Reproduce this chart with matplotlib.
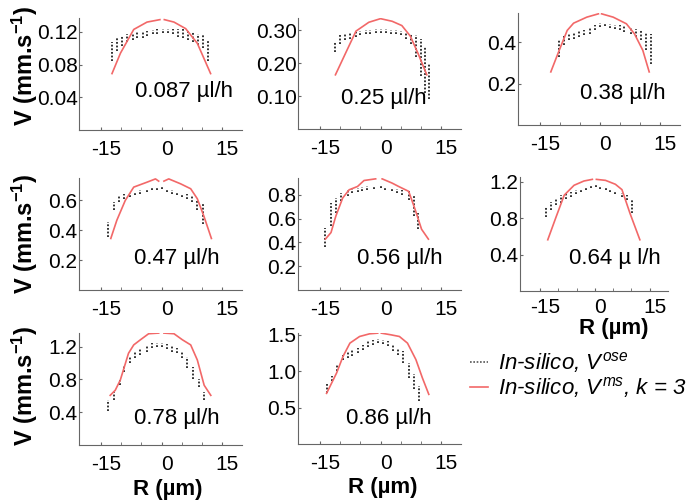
import matplotlib.pyplot as plt
import matplotlib.transforms as mtransforms
from matplotlib.lines import Line2D
import numpy as np

plt.rcParams['font.family'] = ['Liberation Sans', 'DejaVu Sans']
plt.rcParams['mathtext.fontset'] = 'custom'
plt.rcParams['mathtext.rm'] = 'Liberation Sans'
plt.rcParams['mathtext.it'] = 'Liberation Sans:italic'
plt.rcParams['mathtext.bf'] = 'Liberation Sans:bold'
plt.rcParams['axes.unicode_minus'] = False

nan = np.nan

# flow rate of each panel
flow_labels = ['0.087 µl/h', '0.25 µl/h', '0.38 µl/h', '0.47 µl/h',
               '0.56 µl/h', '0.64 µ l/h', '0.78 µl/h', '0.86 µl/h']

# In-silico V^ms (red curve), R in µm, V in mm/s; nan = gap at the centre
ms_r = [
    [-12.3, -10.2, -6.9, -3.6, -0.4, nan, 0.7, 3.1, 6.0, 8.9, 12.2],
    [-11.2, -8.6, -6.1, -2.9, 0.0, 2.9, 5.3, 7.4, 9.4, 11.5],
    [-12.3, -10.2, -8.2, -6.6, -3.3, -0.4, nan, 0.4, 3.3, 6.6, 8.6, 10.7, 12.3],
    [-12.6, -11.1, -9.0, -6.9, -3.6, -1.5, -0.7, nan, 0.6, 1.8, 4.75, 7.25, 8.9, 10.6, 12.4],
    [-13.7, -12.3, -11.1, -9.4, -7.8, -5.7, -4.1, -1.2, nan, 0.4, 2.9, 4.5, 7.0, 8.6, 10.2, 11.9],
    [-12.9, -10.6, -8.4, -5.7, -3.0, -0.7, nan, 0.4, 2.9, 5.6, 7.4, 9.6, 12.3],
    [-12.75, -11.5, -10.25, -8.2, -6.9, -5.25, -3.2, -0.7, nan, 0.6, 3.1, 5.2, 7.25, 8.9, 10.6, 12.25],
    [-13.4, -10.9, -9.3, -7.6, -5.2, -2.7, -0.7, nan, 0.2, 2.6, 4.7, 6.7, 8.8, 10.4, 12.0],
]
ms_v = [
    [0.069, 0.094, 0.123, 0.132, 0.135, nan, 0.135, 0.132, 0.124, 0.106, 0.069],
    [0.165, 0.233, 0.298, 0.325, 0.336, 0.328, 0.315, 0.283, 0.228, 0.165],
    [0.256, 0.36, 0.456, 0.491, 0.52, 0.536, nan, 0.536, 0.52, 0.488, 0.44, 0.36, 0.256],
    [0.345, 0.467, 0.60, 0.689, 0.722, 0.744, 0.729, nan, 0.729, 0.744, 0.711, 0.678, 0.611, 0.489, 0.345],
    [0.427, 0.482, 0.62, 0.772, 0.841, 0.869, 0.919, 0.933, nan, 0.933, 0.897, 0.869, 0.828, 0.676, 0.51, 0.427],
    [0.564, 0.818, 1.055, 1.164, 1.211, 1.229, nan, 1.229, 1.218, 1.175, 1.116, 0.855, 0.564],
    [0.605, 0.667, 0.79, 1.118, 1.22, 1.282, 1.356, 1.364, nan, 1.364, 1.356, 1.282, 1.22, 1.036, 0.728, 0.605],
    [0.696, 0.977, 1.205, 1.386, 1.477, 1.514, 1.523, nan, 1.523, 1.5, 1.477, 1.386, 1.159, 0.909, 0.682],
]

# In-silico V^ose (black dotted columns): radius, lowest and highest value
ose_r = [
    [-12.2, -11.0, -9.8, -8.5, -7.2, -6.0, -4.7, -3.5, -2.2, -1.0, 0.3, 1.5, 2.8, 4.0, 5.3, 6.5, 7.8, 9.0, 10.3, 11.5],
    [-11.3, -10.0, -8.8, -7.5, -6.2, -5.0, -3.7, -2.5, -1.2, 0.0, 1.3, 2.5, 3.8, 5.0, 6.3, 7.5, 8.8, 10.0, 11.0, 12.0],
    [-10.2, -9.0, -7.8, -6.6, -5.3, -4.1, -2.5, -1.2, 0.0, 1.2, 2.5, 3.7, 4.9, 6.1, 7.8, 9.0, 10.2, 11.5, 12.7],
    [-13.3, -11.9, -10.5, -9.25, -7.9, -6.5, -5.25, -3.6, -2.3, -1.1, 0.0, 1.4, 2.7, 3.9, 5.2, 6.4, 7.7, 8.9, 10.2],
    [-13.7, -12.3, -11.1, -9.7, -8.2, -7.0, -5.7, -4.5, -3.3, -1.6, 0.0, 1.2, 2.9, 4.1, 5.3, 7.0, 8.2, 9.4],
    [-13.3, -12.0, -10.6, -9.3, -7.9, -6.6, -5.2, -3.9, -2.5, -1.2, 0.2, 1.5, 2.9, 4.2, 5.6, 7.4, 8.7, 10.1],
    [-13.2, -11.75, -10.4, -9.25, -7.9, -6.5, -5.25, -3.6, -2.3, -1.1, 0.2, 1.4, 2.7, 3.9, 5.2, 6.4, 7.9, 9.3, 10.6],
    [-13.4, -12.1, -10.7, -9.4, -8.2, -7.0, -5.7, -4.3, -3.1, -1.9, -0.7, 0.6, 1.8, 3.0, 4.3, 5.7, 7.0, 8.4, 9.6],
]
ose_lo = [
    [0.085, 0.097, 0.103, 0.108, 0.110, 0.112, 0.113, 0.115, 0.117, 0.118, 0.119, 0.119, 0.117, 0.114, 0.112, 0.110, 0.108, 0.104, 0.100, 0.085],
    [0.235, 0.260, 0.270, 0.275, 0.280, 0.285, 0.288, 0.290, 0.292, 0.292, 0.292, 0.290, 0.288, 0.285, 0.275, 0.260, 0.220, 0.160, 0.110, 0.090],
    [0.328, 0.384, 0.408, 0.416, 0.424, 0.432, 0.440, 0.456, 0.472, 0.475, 0.469, 0.464, 0.456, 0.448, 0.440, 0.424, 0.408, 0.360, 0.296],
    [0.356, 0.533, 0.589, 0.611, 0.622, 0.633, 0.644, 0.656, 0.667, 0.671, 0.678, 0.656, 0.644, 0.633, 0.622, 0.611, 0.589, 0.533, 0.444],
    [0.357, 0.537, 0.648, 0.745, 0.786, 0.814, 0.820, 0.828, 0.842, 0.847, 0.856, 0.842, 0.828, 0.814, 0.800, 0.758, 0.620, 0.510],
    [0.818, 0.890, 0.945, 0.971, 1.018, 1.036, 1.073, 1.090, 1.109, 1.135, 1.145, 1.127, 1.109, 1.090, 1.073, 1.036, 1.000, 0.855],
    [0.42, 0.544, 0.728, 0.893, 0.995, 1.057, 1.098, 1.139, 1.18, 1.2, 1.2, 1.167, 1.139, 1.118, 1.057, 0.934, 0.81, 0.708, 0.544],
    [0.705, 0.864, 1.0, 1.159, 1.182, 1.214, 1.25, 1.286, 1.332, 1.364, 1.386, 1.377, 1.341, 1.273, 1.227, 1.114, 0.909, 0.75, 0.591],
]
ose_hi = [
    [0.108, 0.112, 0.115, 0.118, 0.119, 0.120, 0.120, 0.121, 0.122, 0.123, 0.123, 0.124, 0.124, 0.124, 0.123, 0.122, 0.120, 0.118, 0.116, 0.110],
    [0.265, 0.285, 0.290, 0.292, 0.295, 0.298, 0.300, 0.302, 0.303, 0.304, 0.303, 0.302, 0.300, 0.298, 0.295, 0.290, 0.285, 0.275, 0.250, 0.200],
    [0.416, 0.432, 0.443, 0.448, 0.456, 0.459, 0.472, 0.480, 0.491, 0.488, 0.485, 0.480, 0.480, 0.475, 0.472, 0.464, 0.456, 0.448, 0.440],
    [0.456, 0.589, 0.627, 0.644, 0.649, 0.656, 0.667, 0.678, 0.684, 0.689, 0.693, 0.671, 0.667, 0.656, 0.644, 0.644, 0.633, 0.600, 0.578],
    [0.523, 0.731, 0.772, 0.814, 0.842, 0.855, 0.855, 0.864, 0.869, 0.875, 0.875, 0.864, 0.855, 0.847, 0.836, 0.828, 0.800, 0.648],
    [0.927, 0.980, 1.018, 1.055, 1.080, 1.090, 1.109, 1.127, 1.145, 1.164, 1.164, 1.153, 1.138, 1.116, 1.102, 1.080, 1.055, 1.018],
    [0.544, 0.646, 0.79, 0.975, 1.077, 1.139, 1.18, 1.221, 1.241, 1.249, 1.249, 1.233, 1.208, 1.18, 1.139, 1.077, 0.954, 0.81, 0.646],
    [0.818, 0.932, 1.091, 1.227, 1.259, 1.295, 1.318, 1.364, 1.409, 1.432, 1.441, 1.432, 1.409, 1.364, 1.318, 1.273, 1.114, 0.955, 0.795],
]

# y axis ticks / tops
y_tops = [0.137, 0.338, 0.54, 0.75, 0.94, 1.255, 1.365, 1.525]
y_ticks = [[0.04, 0.08, 0.12], [0.1, 0.2, 0.3], [0.2, 0.4], [0.2, 0.4, 0.6],
           [0.2, 0.4, 0.6, 0.8], [0.4, 0.8, 1.2], [0.4, 0.8, 1.2], [0.5, 1.0, 1.5]]
y_tick_labels = [['0.04', '0.08', '0.12'], ['0.10', '0.20', '0.30'], ['0.2', '0.4'],
                 ['0.2', '0.4', '0.6'], ['0.2', '0.4', '0.6', '0.8'],
                 ['0.4', '0.8', '1.2'], ['0.4', '0.8', '1.2'], ['0.5', '1.0', '1.5']]

W, H = 686, 500
# axes boxes in pixels: left, top, right, bottom
boxes = [(79, 18, 242, 130), (298, 18, 461, 129), (518, 13, 680, 125),
         (79, 178, 242, 290), (298, 178, 461, 290), (520, 177, 668, 291),
         (79, 333, 242, 445), (298, 333, 461, 444)]
text_pos = [(0.644, 0.34), (0.525, 0.275), (0.645, 0.283), (0.6, 0.277),
            (0.626, 0.283), (0.639, 0.287), (0.6, 0.238), (0.558, 0.232)]

red = '#f26868'
fig = plt.figure(figsize=(W / 100, H / 100), dpi=100)
shift = mtransforms.ScaledTranslation(0.05, 0, fig.dpi_scale_trans)

for i in range(8):
    l, t, r, b = boxes[i]
    ax = fig.add_axes([l / W, 1 - b / H, (r - l) / W, (b - t) / H])
    ax.vlines(ose_r[i], ose_lo[i], ose_hi[i], colors='#222222',
              linestyles=(0, (1, 1)), linewidth=1.3)
    ax.plot(ms_r[i], ms_v[i], color=red, lw=1.2)

    ax.set_xlim(-20.5, 20)
    ax.set_ylim(0, y_tops[i])
    ax.set_xticks([-15, 0, 15])
    ax.set_xticks([-10, -5, 5, 10], minor=True)
    ax.set_yticks(y_ticks[i])
    ax.set_yticklabels(y_tick_labels[i])
    for s in ['top', 'right']:
        ax.spines[s].set_visible(False)
    for s in ['left', 'bottom']:
        ax.spines[s].set_color('#666666')
    ax.tick_params(axis='both', which='both', direction='in', length=2,
                   color='#666666', labelsize=15)
    ax.tick_params(axis='x', pad=5 if i == 5 else 7)
    ax.tick_params(axis='y', pad=1)
    for lab in ax.get_xticklabels():
        lab.set_transform(lab.get_transform() + shift)

    ax.text(text_pos[i][0], text_pos[i][1], flow_labels[i], transform=ax.transAxes,
            ha='center', va='center', fontsize=16)

    if i in (0, 3, 6):
        ylab_y = {0: 0.57, 3: 0.5, 6: 0.53}[i]
        ax.text(-0.33, ylab_y, r'V (mm.s$^{\mathbf{-1}}$)', transform=ax.transAxes,
                rotation=90, ha='center', va='center', fontsize=17, fontweight='bold')
    if i == 5:
        ax.text(0.635, -0.33, 'R (µm)', transform=ax.transAxes,
                ha='center', va='center', fontsize=16, fontweight='bold')
    if i in (6, 7):
        ax.text(0.546 if i == 6 else 0.52, -0.395, 'R (µm)', transform=ax.transAxes,
                ha='center', va='center', fontsize=16, fontweight='bold')

handles = [Line2D([], [], color='#555555', linestyle=(0, (1, 1)), lw=1.2),
           Line2D([], [], color=red, lw=1.2)]
fig.legend(handles, [r'In-silico, $V^{ose}$', r'In-silico, $V^{ms}$, $k$ = 3'],
           loc='upper left', bbox_to_anchor=(470 / W, 1 - 350 / H), frameon=False,
           prop={'style': 'italic', 'size': 16}, handlelength=0.8, handletextpad=0.45,
           borderpad=0, borderaxespad=0, labelspacing=0.0)

fig.savefig('out.png', dpi=100)
